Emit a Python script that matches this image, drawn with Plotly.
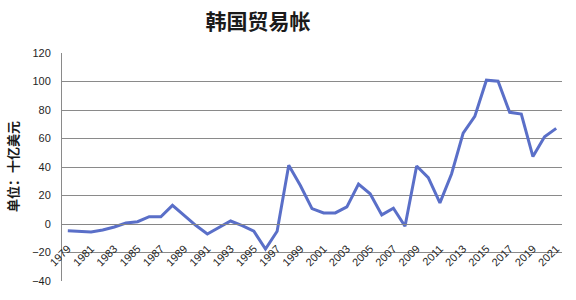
import plotly.graph_objects as go

years = list(range(1979, 2022))
balance = [-4.7, -5.4, -5.6, -4.2, -2.1, 0.7, 1.6, 5.1, 5.1, 13.1,
           6.1, -0.9, -7.0, -2.3, 2.1, -1.2, -5.1, -17.6, -5.1, 41.2,
           27.0, 10.8, 7.8, 7.8, 12.0, 28.0, 21.2, 6.4, 11.1, -1.6,
           40.7, 32.5, 14.8, 35.1, 63.8, 75.5, 100.9, 100.2, 78.4, 77.2,
           47.3, 61.2, 67.1]
tick_years = list(range(1979, 2022, 2))
title_text = "韩国贸易帐"
y_title = "单位：十亿美元"

fig = go.Figure()
fig.add_trace(go.Scatter(
    x=years, y=balance, mode="lines",
    line=dict(color="#5a6fc8", width=3),
    hoverinfo="skip", showlegend=False,
))

ymin, ymax = -40, 120
fig.update_layout(
    width=576, height=300,
    margin=dict(l=62, r=14, t=53, b=19),
    paper_bgcolor="white", plot_bgcolor="white",
    title=dict(text="<b>" + title_text + "</b>", x=258/576, xanchor="center",
               y=1 - 22/300, yanchor="middle",
               font=dict(family="Noto Sans CJK SC", size=21, color="#1a1a1a")),
    xaxis=dict(
        range=[1978.5, 2021.5],
        tickvals=tick_years, ticktext=[str(y) for y in tick_years],
        tickangle=-45, showgrid=False, zeroline=False,
        showline=True, linecolor="#868686", linewidth=1,
        ticks="", anchor="free", position=(0 - ymin) / (ymax - ymin),
        ticklabelstandoff=13,
        tickfont=dict(family="Liberation Sans", size=11, color="#1f1f1f"),
    ),
    yaxis=dict(
        range=[ymin, ymax], dtick=20, tick0=0,
        showgrid=True, gridcolor="#8a8a8a", gridwidth=1,
        zeroline=False, showline=True, linecolor="#8a8a8a", linewidth=1,
        ticks="", ticklabelstandoff=8,
        tickfont=dict(family="Liberation Sans", size=11, color="#1f1f1f"),
    ),
    annotations=[dict(
        text="<b>" + y_title + "</b>", textangle=-90,
        xref="paper", yref="paper", x=(12 - 62) / 500, y=0.5,
        xanchor="center", yanchor="middle", showarrow=False,
        font=dict(family="Noto Sans CJK SC", size=13, color="#1a1a1a"),
    )],
)

fig.write_html("out.html")
